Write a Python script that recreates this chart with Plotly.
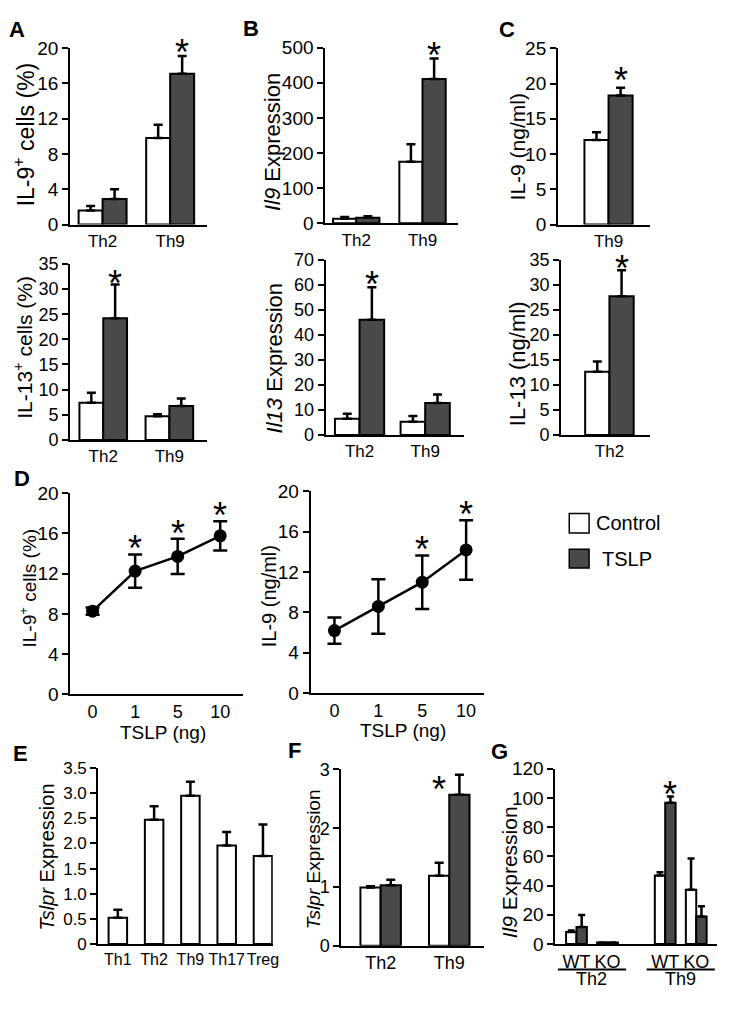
import plotly.graph_objects as go

# page is 733x1009; the browser's default 8px body margin surrounds the figure
OFF = 8
W, H = 733 - 2 * OFF, 1009 - 2 * OFF
FONT = "Liberation Sans, Arial, Helvetica, sans-serif"
DARK = "#494949"

# ---------------- data ----------------
A9_cats = ["Th2", "Th9"]
A9_ctrl = [1.6, 9.8]
A9_ctrl_err = [0.5, 1.5]
A9_tslp = [2.9, 17.1]
A9_tslp_err = [1.1, 2.0]
A13_cats = ["Th2", "Th9"]
A13_ctrl = [7.4, 4.7]
A13_ctrl_err = [2.0, 0.4]
A13_tslp = [24.2, 6.75]
A13_tslp_err = [6.7, 1.5]
B9_cats = ["Th2", "Th9"]
B9_ctrl = [13, 175]
B9_ctrl_err = [5, 50]
B9_tslp = [16, 411]
B9_tslp_err = [4, 58]
B13_cats = ["Th2", "Th9"]
B13_ctrl = [6.5, 5.3]
B13_ctrl_err = [2.0, 2.3]
B13_tslp = [46, 12.8]
B13_tslp_err = [13, 3.4]
C9_cats = ["Th9"]
C9_ctrl = [12.0]
C9_ctrl_err = [1.1]
C9_tslp = [18.3]
C9_tslp_err = [1.1]
C13_cats = ["Th2"]
C13_ctrl = [12.65]
C13_ctrl_err = [2.05]
C13_tslp = [27.7]
C13_tslp_err = [5.2]
D_doses = ["0", "1", "5", "10"]
D_pct = [8.27, 12.25, 13.7, 15.75]
D_pct_err = [0.35, 1.65, 1.75, 1.45]
D_pct_sig = [False, True, True, True]
D_ngml = [6.2, 8.6, 11.0, 14.2]
D_ngml_err = [1.3, 2.7, 2.65, 2.95]
D_ngml_sig = [False, False, True, True]
E_cats = ["Th1", "Th2", "Th9", "Th17", "Treg"]
E_vals = [0.52, 2.47, 2.95, 1.96, 1.75]
E_err = [0.16, 0.27, 0.28, 0.27, 0.63]
F_cats = ["Th2", "Th9"]
F_ctrl = [0.99, 1.19]
F_ctrl_err = [0.02, 0.22]
F_tslp = [1.03, 2.57]
F_tslp_err = [0.09, 0.34]
G_groups = ["Th2", "Th2", "Th9", "Th9"]
G_geno = ["WT", "KO", "WT", "KO"]
G_ctrl = [8.3, 1.1, 46.9, 37.1]
G_ctrl_err = [0.9, 0.0, 2.3, 21.4]
G_tslp = [11.6, 1.1, 96.8, 18.8]
G_tslp_err = [8.3, 0.0, 4.2, 7.1]

fig = go.Figure()
layout = {}
annotations = []
shapes = []


def px(xp):
    """page x pixel -> paper fraction"""
    return (xp - OFF) / W


def py(yp):
    """page y pixel (from top) -> paper fraction"""
    return 1 - (yp - OFF) / H


def xr(n):
    return "x" if n == 1 else f"x{n}"


def yr(n):
    return "y" if n == 1 else f"y{n}"


def add_axes(n, xpx, ypx, yrange, ytickvals, yticktext, ytf, xrange, xtf,
             xtype="category", xtickvals=None, xticktext=None):
    xa = dict(domain=[px(xpx[0]), px(xpx[1])], anchor=yr(n), range=xrange,
              type=xtype, showline=True, linecolor="black", linewidth=2,
              ticks="", showgrid=False, zeroline=False, fixedrange=True,
              tickangle=0,
              tickfont=dict(family=FONT, size=xtf, color="black"))
    if xtickvals is not None:
        xa.update(tickmode="array", tickvals=xtickvals, ticktext=xticktext)
    ya = dict(domain=[py(ypx[1]), py(ypx[0])], anchor=xr(n),
              range=yrange, showline=True, linecolor="black", linewidth=2,
              ticks="outside", ticklen=6, tickwidth=2, tickcolor="black",
              showgrid=False, zeroline=False, fixedrange=True,
              tickmode="array", tickvals=ytickvals, ticktext=yticktext,
              tickfont=dict(family=FONT, size=ytf, color="black"))
    layout["xaxis" if n == 1 else f"xaxis{n}"] = xa
    layout["yaxis" if n == 1 else f"yaxis{n}"] = ya


def bar_pair(n, x, ctrl, ctrl_err, tslp, tslp_err, w, cap=4.5):
    for vals, errs, col, off in ((ctrl, ctrl_err, "white", -w),
                                 (tslp, tslp_err, DARK, 0)):
        fig.add_trace(go.Bar(
            x=x, y=vals, width=[w] * len(vals), offset=off,
            marker=dict(color=col, line=dict(color="black", width=2)),
            error_y=dict(type="data", symmetric=False, array=errs,
                         arrayminus=[0] * len(vals), color="black",
                         thickness=2.5, width=cap),
            xaxis=xr(n), yaxis=yr(n), showlegend=False, hoverinfo="skip"))


def star(n, x, y, yshift, xshift=0):
    annotations.append(dict(x=x, y=y, xref=xr(n), yref=yr(n), text="*",
                            showarrow=False, yanchor="middle",
                            xanchor="center", yshift=yshift, xshift=xshift,
                            font=dict(family=FONT, size=36, color="black")))


def ytitle(text, cx, cy, size):
    annotations.append(dict(x=px(cx), y=py(cy), xref="paper", yref="paper",
                            text=text, textangle=-90, showarrow=False,
                            xanchor="center", yanchor="middle",
                            font=dict(family=FONT, size=size, color="black")))


def ptext(text, cx, cy, size, bold=False, xanchor="center"):
    annotations.append(dict(x=px(cx), y=py(cy), xref="paper", yref="paper",
                            text=f"<b>{text}</b>" if bold else text,
                            showarrow=False, xanchor=xanchor, yanchor="middle",
                            font=dict(family=FONT, size=size, color="black")))


STAR_CORR = 7.8

# ---------------- A top ----------------
w = 0.355
add_axes(1, (70.7, 209), (38.7, 219), [0, 20], [0, 4, 8, 12, 16, 20],
         ["0", "4", "8", "12", "16", "20"], 19, [-0.48, 1.55], 17)
bar_pair(1, A9_cats, A9_ctrl, A9_ctrl_err, A9_tslp, A9_tslp_err, w)
star(1, 1 + w / 2, A9_tslp[1] + A9_tslp_err[1], 11 - STAR_CORR)
ytitle("IL-9<sup>+</sup> cells (%)", 25, 127, 23)

# ---------------- B top ----------------
w = 0.35
add_axes(2, (328, 461.7), (38.3, 217.7), [0, 500], [0, 100, 200, 300, 400, 500],
         ["0", "100", "200", "300", "400", "500"], 19, [-0.467, 1.534], 17)
bar_pair(2, B9_cats, B9_ctrl, B9_ctrl_err, B9_tslp, B9_tslp_err, w)
star(2, 1 + w / 2, B9_tslp[1] + B9_tslp_err[1], 11 - STAR_CORR)
ytitle("<i>Il9</i> Expression", 275, 135, 22)

# ---------------- C top ----------------
w = 0.358
add_axes(3, (562.7, 655.7), (39, 219), [0, 25], [0, 5, 10, 15, 20, 25],
         ["0", "5", "10", "15", "20", "25"], 19, [-0.75, 0.62], 17)
bar_pair(3, C9_cats, C9_ctrl, C9_ctrl_err, C9_tslp, C9_tslp_err, w)
star(3, w / 2, C9_tslp[0] + C9_tslp_err[0], 15.5 - STAR_CORR)
ytitle("IL-9 (ng/ml)", 522, 139.5, 21)

# ---------------- A bottom ----------------
w = 0.36
add_axes(4, (70.7, 209), (259.3, 439), [0, 35], [0, 5, 10, 15, 20, 25, 30, 35],
         ["0", "5", "10", "15", "20", "25", "30", "35"], 18, [-0.5, 1.574], 17)
bar_pair(4, A13_cats, A13_ctrl, A13_ctrl_err, A13_tslp, A13_tslp_err, w)
star(4, w / 2, A13_tslp[0] + A13_tslp_err[0], 9 - STAR_CORR)
ytitle("IL-13<sup>+</sup> cells (%)", 23, 344, 21)

# ---------------- B bottom ----------------
w = 0.375
add_axes(5, (328.3, 467.7), (255, 434), [0, 70], [0, 10, 20, 30, 40, 50, 60, 70],
         ["0", "10", "20", "30", "40", "50", "60", "70"], 18, [-0.517, 1.589], 17)
bar_pair(5, B13_cats, B13_ctrl, B13_ctrl_err, B13_tslp, B13_tslp_err, w)
star(5, w / 2, B13_tslp[0] + B13_tslp_err[0], 10.5 - STAR_CORR)
ytitle("<i>Il13</i> Expression", 277, 356, 22)

# ---------------- C bottom ----------------
w = 0.36
add_axes(6, (565.7, 655.7), (255, 434), [0, 35], [0, 5, 10, 15, 20, 25, 30, 35],
         ["0", "5", "10", "15", "20", "25", "30", "35"], 18, [-0.718, 0.606], 17)
bar_pair(6, C13_cats, C13_ctrl, C13_ctrl_err, C13_tslp, C13_tslp_err, w)
star(6, w / 2, C13_tslp[0] + C13_tslp_err[0], 9.5 - STAR_CORR)
ytitle("IL-13 (ng/ml)", 522, 361, 22)

# ---------------- D ----------------
for n, xpx, ypx, xrg, vals, errs, sig, title, tcx, tcy, tsz, xtc, xty in (
        (7, (71, 245), (493.3, 699), [-0.52, 3.536], D_pct, D_pct_err, D_pct_sig,
         "IL-9<sup>+</sup> cells (%)", 28, 590, 19, 164, 738),
        (8, (313.3, 487.7), (491.7, 697.7), [-0.54, 3.4], D_ngml, D_ngml_err,
         D_ngml_sig, "IL-9 (ng/ml)", 271, 599, 20, 406, 736)):
    add_axes(n, xpx, ypx, [0, 20], [0, 4, 8, 12, 16, 20],
             ["0", "4", "8", "12", "16", "20"], 19, xrg, 18)
    fig.add_trace(go.Scatter(
        x=D_doses, y=vals, mode="lines+markers",
        line=dict(color="black", width=2.5),
        marker=dict(color="black", size=13),
        error_y=dict(type="data", array=errs, color="black", thickness=2.5,
                     width=7),
        xaxis=xr(n), yaxis=yr(n), showlegend=False, hoverinfo="skip"))
    for i, (v, e, s) in enumerate(zip(vals, errs, sig)):
        if s:
            star(n, i, v + e, 13.5 - STAR_CORR)
    ytitle(title, tcx, tcy, tsz)
    ptext("TSLP (ng)", xtc, xty, 19)

# ---------------- E ----------------
w = 0.51
add_axes(9, (99, 275), (774.3, 954), [0, 3.5],
         [0, 0.5, 1.0, 1.5, 2.0, 2.5, 3.0, 3.5],
         ["0", "0.5", "1.0", "1.5", "2.0", "2.5", "3.0", "3.5"], 17,
         [-0.54, 4.27], 16)
fig.add_trace(go.Bar(
    x=E_cats, y=E_vals, width=[w] * len(E_vals), offset=-w / 2,
    marker=dict(color="white", line=dict(color="black", width=2)),
    error_y=dict(type="data", symmetric=False, array=E_err,
                 arrayminus=[0] * len(E_err), color="black", thickness=2.5,
                 width=4.5),
    xaxis=xr(9), yaxis=yr(9), showlegend=False, hoverinfo="skip"))
ytitle("<i>Tslpr</i> Expression", 47, 865, 20)

# ---------------- F ----------------
w = 0.295
add_axes(10, (344.3, 488), (775.7, 955.7), [0, 3], [0, 1, 2, 3],
         ["0", "1", "2", "3"], 18, [-0.571, 1.506], 18)
bar_pair(10, F_cats, F_ctrl, F_ctrl_err, F_tslp, F_tslp_err, w)
star(10, 1 - w / 2, F_tslp[1] + F_tslp_err[1], -7 - STAR_CORR)
ytitle("<i>Tslpr</i> Expression", 316, 867, 19)

# ---------------- G ----------------
w = 0.335
grp_order = ["Th2", "Th9"]
geno_order = ["WT", "KO"]
G_pos = [grp_order.index(g) * 2.86 + geno_order.index(k)
         for g, k in zip(G_groups, G_geno)]
add_axes(11, (560, 722.7), (775, 954), [0, 120], [0, 20, 40, 60, 80, 100, 120],
         ["0", "20", "40", "60", "80", "100", "120"], 19, [-0.68, 4.52], 18,
         xtype="linear", xtickvals=G_pos, xticktext=G_geno)
bar_pair(11, G_pos, G_ctrl, G_ctrl_err, G_tslp, G_tslp_err, w, cap=3.5)
star(11, G_pos[2] + w / 2, G_tslp[2] + G_tslp_err[2], 10 - STAR_CORR)
ytitle("<i>Il9</i> Expression", 514, 881, 21)
for g in grp_order:
    ps = [p for p, gg in zip(G_pos, G_groups) if gg == g]
    shapes.append(dict(type="line", xref=xr(11), yref="paper",
                       x0=min(ps) - 0.6, x1=max(ps) + 0.6,
                       y0=py(980), y1=py(980),
                       line=dict(color="black", width=2)))
    annotations.append(dict(x=(min(ps) + max(ps)) / 2, y=py(990),
                            xref=xr(11), yref="paper", text=g, showarrow=False,
                            xanchor="center", yanchor="middle",
                            font=dict(family=FONT, size=18, color="black")))

# ---------------- legend ----------------
for (top, bot), col, label, tx in (((514.3, 534), "white", "Control", 599),
                                   ((550.7, 570), DARK, "TSLP", 605)):
    shapes.append(dict(type="rect", xref="paper", yref="paper",
                       x0=px(574), x1=px(594), y0=py(bot), y1=py(top),
                       fillcolor=col, line=dict(color="black", width=1.5)))
    ptext(label, tx, (top + bot) / 2, 20, xanchor="left")

# ---------------- panel letters ----------------
for letter, cx, cy in (("A", 17, 20), ("B", 253, 19), ("C", 511, 20),
                       ("D", 22, 478), ("E", 21, 759), ("F", 297, 756),
                       ("G", 504, 757)):
    ptext(letter, cx, cy, 22, bold=True)

fig.update_layout(width=W, height=H, autosize=False,
                  margin=dict(l=0, r=0, t=0, b=0),
                  paper_bgcolor="white", plot_bgcolor="white",
                  showlegend=False, annotations=annotations, shapes=shapes,
                  font=dict(family=FONT, color="black"), **layout)

fig.write_html("out.html", config={"displayModeBar": False})
